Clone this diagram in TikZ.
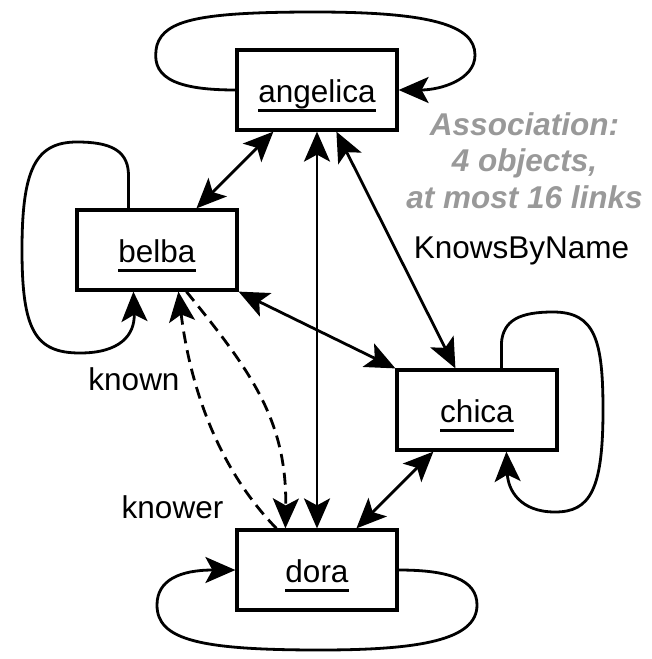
\documentclass[tikz,border=0pt]{standalone}
\usepackage{fontspec}
\setmainfont{Liberation Sans}
\usetikzlibrary{arrows.meta}

% object name with a heavy underline at a fixed distance below the baseline
\newcommand\objname[1]{\setbox0\hbox{#1}\rlap{\copy0}\rule[-9.5pt]{\wd0}{3pt}}

\tikzset{
  obj/.style={draw, line width=3.2pt, minimum width=160pt, minimum height=80pt,
              inner sep=0pt, text height=30pt, text depth=6pt,
              font=\fontsize{31.5}{36}\selectfont},
  link/.style={line width=2.8pt},
  head/.tip={Stealth[length=30pt,width=26pt,inset=7pt]},
  tip/.style={-head},
  bothtips/.style={head-head},
  dashlink/.style={link, dash pattern=on 12pt off 7pt},
  lbl/.style={inner sep=0pt, anchor=base, font=\fontsize{31.5}{36}\selectfont},
  note/.style={inner sep=0pt, align=center, text=black!40,
               font=\fontsize{31.5}{36.5}\selectfont\bfseries\itshape}
}

\begin{document}
\begin{tikzpicture}[x=1pt, y=-1pt]
  \useasboundingbox (0,0) rectangle (651,659);

  % objects
  \node[obj] (angelica) at (317,90)  {\objname{angelica}};
  \node[obj] (belba)    at (157,250) {\objname{belba}};
  \node[obj] (chica)    at (477,410) {\objname{chica}};
  \node[obj] (dora)     at (317,570) {\objname{dora}};

  % self links
  \draw[link, tip] (angelica.west)
      .. controls (170,90) and (150,75) .. (157,45)
      .. controls (165,20) and (200,12) .. (315,12)
      .. controls (430,12) and (475,25) .. (475,55)
      .. controls (475,80) and (440,90) .. (angelica.east);
  \draw[link, tip] ([xshift=53pt]belba.north west) -- ++(0,-30)
      .. controls (130,150) and (110,142) .. (77,142)
      .. controls (35,142) and (22,170) .. (22,250)
      .. controls (22,330) and (35,353) .. (80,353)
      .. controls (120,353) and (135,335) .. ([xshift=58pt]belba.south west);
  \draw[link, tip] ([xshift=106pt]chica.north west) -- ++(0,-25)
      .. controls (503,320) and (520,312) .. (553,312)
      .. controls (595,312) and (603,340) .. (603,410)
      .. controls (603,490) and (590,512) .. (555,512)
      .. controls (520,512) and (508,490) .. ([xshift=111pt]chica.south west);
  \draw[link, tip] (dora.east)
      .. controls (450,570) and (477,580) .. (477,605)
      .. controls (477,640) and (420,650) .. (320,650)
      .. controls (200,650) and (157,640) .. (157,605)
      .. controls (157,580) and (180,570) .. (dora.west);

  % links between objects
  \draw[link, bothtips] ([xshift=121pt]belba.north west) -- ([xshift=38pt]angelica.south west);
  \draw[link, bothtips] (angelica.south) -- (dora.north);
  \draw[link, bothtips] ([xshift=101pt]angelica.south west) -- ([xshift=60pt]chica.north west);
  \draw[link, bothtips] (belba.south east) -- (chica.north west);
  \draw[link, bothtips] ([xshift=38pt]chica.south west) -- ([xshift=121pt]dora.north west);

  % the two roles, dashed
  \draw[dashlink, tip] ([xshift=111pt]belba.south west)
      .. controls (250,370) and (287,420) .. ([xshift=50pt]dora.north west);
  \draw[dashlink, tip] ([xshift=41pt]dora.north west)
      .. controls (210,460) and (188,370) .. ([xshift=103pt]belba.south west);

  % labels
  \node[lbl] (known)  at (134,390) {known};
  \node[lbl] (knower) at (172.5,518) {knower};
  \node[lbl] (assoc)  at (521.5,258) {KnowsByName};
  \node[note, anchor=base] (summary) at (524.5,208)
      {Association:\\4 objects,\\at most 16 links};
\end{tikzpicture}
\end{document}
